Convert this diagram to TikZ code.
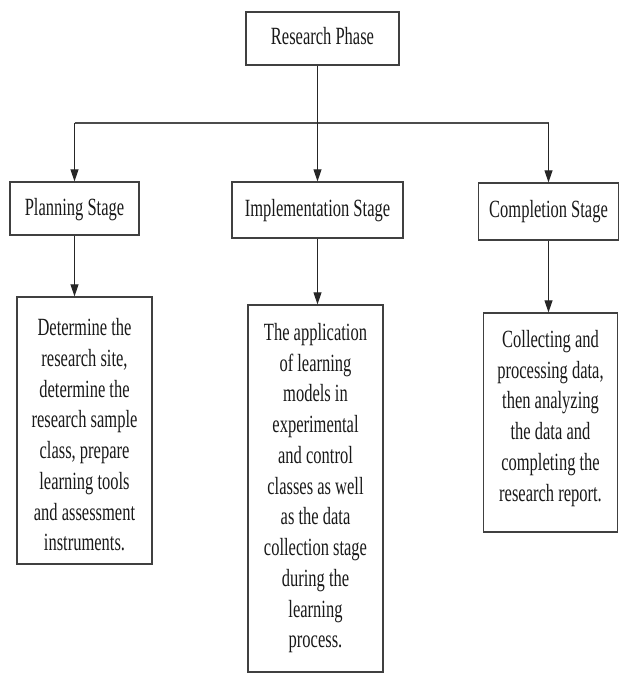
\documentclass[tikz,border=0pt]{standalone}
\usepackage{fontspec}
\setmainfont{Liberation Serif}
\usetikzlibrary{arrows.meta}
\newcommand\txt[1]{\scalebox{1}[1.5]{\begin{tabular}{@{}c@{}}#1\end{tabular}}}
\tikzset{
  box/.style={draw=black!75, line width=1.3pt, inner sep=0pt},
  lbl/.style={inner sep=0pt, font=\fontsize{16.5}{20.5}\selectfont, text=black!90},
  arr/.style={draw=black!85, line width=1pt, -{Triangle[length=12pt,width=8pt]}},
  bus/.style={draw=black!70, line width=1.6pt}
}
\begin{document}
\begin{tikzpicture}[x=1pt,y=-1pt]
\useasboundingbox (0,0) rectangle (621,674);
% boxes
\node[box, minimum width=153pt, minimum height=53pt] (top) at (322.5,38.5) {};
\node[box, minimum width=129pt, minimum height=53pt] (pl) at (74.5,208.5) {};
\node[box, minimum width=171pt, minimum height=56pt] (im) at (317.5,210) {};
\node[box, minimum width=140pt, minimum height=57pt] (cp) at (548.5,211.5) {};
\node[box, minimum width=135pt, minimum height=267pt] (pld) at (84.5,430.5) {};
\node[box, minimum width=135pt, minimum height=367pt] (imd) at (315.5,488.5) {};
\node[box, minimum width=134pt, minimum height=219pt] (cpd) at (550.5,422.5) {};
% texts
\node[lbl] (topt) at (322.5,38.5) {\txt{Research Phase}};
\node[lbl] (plt) at (74.5,209.5) {\txt{Planning Stage}};
\node[lbl] (imt) at (317.5,210) {\txt{Implementation Stage}};
\node[lbl] (cpt) at (548.5,211.5) {\txt{Completion Stage}};
\node[lbl] (pldt) at (84.5,437) {\txt{Determine the\\research site,\\determine the\\research sample\\class, prepare\\learning tools\\and assessment\\instruments.}};
\node[lbl] (imdt) at (315.5,488) {\txt{The application\\of learning\\models in\\experimental\\and control\\classes as well\\as the data\\collection stage\\during the\\learning\\process.}};
\node[lbl] (cpdt) at (550.5,418) {\txt{Collecting and\\processing data,\\then analyzing\\the data and\\completing the\\research report.}};
% connectors
\coordinate (busy) at (0,123);
\draw[bus] (pl.north |- busy) -- (cp.north |- busy);
\draw[arr] (pl.north |- busy) -- (pl.north);
\draw[arr] (cp.north |- busy) -- (cp.north);
\draw[arr] (im.north |- top.south) -- (im.north);
\draw[arr] (pl.south) -- (pl.south |- pld.north);
\draw[arr] (im.south) -- (im.south |- imd.north);
\draw[arr] (cp.south) -- (cp.south |- cpd.north);
\end{tikzpicture}
\end{document}
